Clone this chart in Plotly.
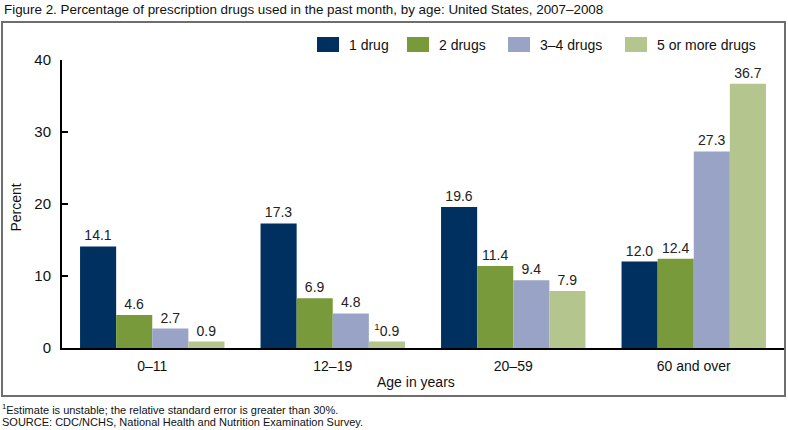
import plotly.graph_objects as go

categories = ["0–11", "12–19", "20–59", "60 and over"]
series_names = ["1 drug", "2 drugs", "3–4 drugs", "5 or more drugs"]
one_drug = [14.1, 17.3, 19.6, 12.0]
two_drugs = [4.6, 6.9, 11.4, 12.4]
three_four_drugs = [2.7, 4.8, 9.4, 27.3]
five_plus_drugs = [0.9, 0.9, 7.9, 36.7]
unstable = [[False] * 4, [False] * 4, [False] * 4, [False, True, False, False]]
colors = ["#00305f", "#789a3b", "#98a3c5", "#b4c58e"]
y_ticks = [0, 10, 20, 30, 40]

series_values = [one_drug, two_drugs, three_four_drugs, five_plus_drugs]
FONT = "Liberation Sans, Arial"
TXT = "#111111"

fig = go.Figure()
for name, vals, col, flags in zip(series_names, series_values, colors, unstable):
    texts = [("<sup>1</sup>" if f else "") + f"{v:.1f}" for v, f in zip(vals, flags)]
    fig.add_trace(go.Bar(
        x=categories, y=vals, name=name, marker=dict(color=col, line=dict(width=0)),
        text=texts, textposition="outside", cliponaxis=False, showlegend=False,
        textfont=dict(family=FONT, size=14, color="#222222"),
    ))

fig.update_layout(
    width=788, height=430,
    margin=dict(l=62, r=4, t=60, b=82),
    paper_bgcolor="white", plot_bgcolor="white",
    barmode="group", bargap=0.2, bargroupgap=0,
    font=dict(family=FONT, size=14, color=TXT),
    xaxis=dict(showline=True, linecolor="black", linewidth=2, ticks="",
               tickfont=dict(family=FONT, size=14, color=TXT),
               ticklabelstandoff=4, showgrid=False, zeroline=False),
    yaxis=dict(range=[0, 40], tickvals=y_ticks, showline=True, linecolor="black",
               linewidth=2, ticks="inside", ticklen=6, tickwidth=2, tickcolor="black",
               tickfont=dict(family=FONT, size=15, color=TXT),
               ticklabelstandoff=6, showgrid=False, zeroline=False),
)

# custom legend (swatch + label) across the top
sw_x0 = [0.3532, 0.4778, 0.6177, 0.7798]
sw_w = 0.0305
for name, col, x0 in zip(series_names, colors, sw_x0):
    fig.add_shape(type="rect", xref="paper", yref="paper", x0=x0, x1=x0 + sw_w,
                  y0=1.0278, y1=1.0799, fillcolor=col, line=dict(width=0))
    fig.add_annotation(text=name, xref="paper", yref="paper", x=x0 + sw_w + 0.011, y=1.0538,
                       xanchor="left", yanchor="middle", showarrow=False,
                       font=dict(family=FONT, size=14, color=TXT))

fig.add_annotation(text="Figure 2. Percentage of prescription drugs used in the past month, by age: United States, 2007–2008",
                   xref="paper", yref="paper", x=-0.083, y=1.174, xanchor="left", yanchor="middle",
                   showarrow=False, font=dict(family=FONT, size=13.4, color=TXT))
fig.add_annotation(text="Percent", xref="paper", yref="paper", x=-0.063, y=0.486,
                   textangle=-90, showarrow=False, xanchor="center", yanchor="middle",
                   font=dict(family=FONT, size=14, color=TXT))
fig.add_annotation(text="Age in years", xref="paper", yref="paper", x=0.49, y=-0.117,
                   xanchor="center", yanchor="middle", showarrow=False,
                   font=dict(family=FONT, size=14, color=TXT))
fig.add_annotation(text="<sup>1</sup>Estimate is unstable; the relative standard error is greater than 30%.",
                   xref="paper", yref="paper", x=-0.0855, y=-0.212, xanchor="left", yanchor="middle",
                   showarrow=False, font=dict(family=FONT, size=11, color=TXT))
fig.add_annotation(text="SOURCE: CDC/NCHS, National Health and Nutrition Examination Survey.",
                   xref="paper", yref="paper", x=-0.0855, y=-0.257, xanchor="left", yanchor="middle",
                   showarrow=False, font=dict(family=FONT, size=11, color=TXT))
fig.add_shape(type="rect", xref="paper", yref="paper", x0=-0.0831, x1=1.0014, y0=-0.1667, y1=1.132,
              line=dict(color="#6e6e6e", width=2), layer="below")

fig.write_html("out.html", config={"displayModeBar": False},
               post_script="document.body.style.margin='0';document.body.style.padding='0';")
